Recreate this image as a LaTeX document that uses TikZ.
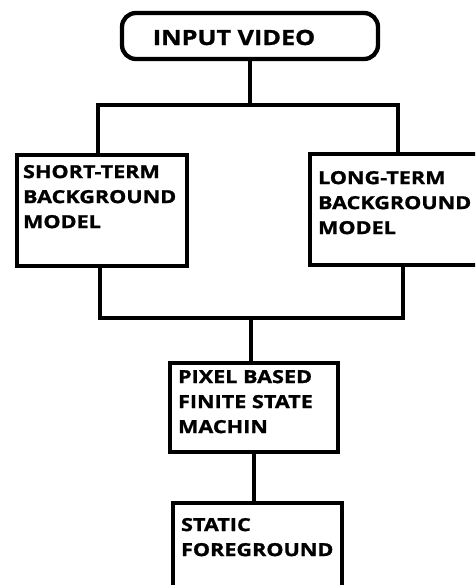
\documentclass[tikz,border=0pt]{standalone}
\usepackage{fontspec}
\newfontfamily\diagfont{Open Sans}[FakeStretch=1.2, FakeBold=1.2]
\usetikzlibrary{calc, positioning}

\begin{document}
\begin{tikzpicture}[
			x=1pt, y=-1pt,
			% Node styles
			stageBox/.style={rectangle, draw=black, line width=4.3pt, fill=white, inner sep=0pt},
			startBox/.style={stageBox, rounded corners=14pt},
			boxText/.style={anchor=north west, inner sep=0pt, align=left, font=\diagfont\bfseries\fontsize{18}{25}\selectfont},
			% Line styles
			link/.style={draw=black, line width=4.3pt}
			]
			
			\useasboundingbox (0,0) rectangle (475,585);
			\clip (0,0) rectangle (475,585);
			
			% =========================================================
			% 1. THE STAGES
			% =========================================================
			
			\node[startBox, minimum width=256pt, minimum height=46pt] (input) at (250,36) {};
			\node[inner sep=0pt, font=\diagfont\bfseries\fontsize{21}{25}\selectfont] (inputText) at (234,37.5) {INPUT VIDEO};
			
			\node[stageBox, minimum width=170pt, minimum height=111pt] (shortBg) at (102,210.5) {};
			\node[boxText] (shortText) at ([shift={(8,12)}]shortBg.north west) {SHORT-TERM\\BACKGROUND\\MODEL};
			
			\node[stageBox, minimum width=170pt, minimum height=111pt] (longBg) at (395,209.5) {};
			\node[boxText] (longText) at ([shift={(10,19)}]longBg.north west) {LONG-TERM\\BACKGROUND\\MODEL};
			
			\node[stageBox, minimum width=168pt, minimum height=89pt] (fsm) at (254,407.5) {};
			\node[boxText] (fsmText) at ([shift={(10,9)}]fsm.north west) {PIXEL BASED\\FINITE STATE\\MACHIN};
			
			\node[stageBox, minimum width=169pt, minimum height=100pt] (staticFg) at (257.5,553) {};
			\node[boxText] (staticText) at ([shift={(10,17)}]staticFg.north west) {STATIC\\FOREGROUND};
			
			% =========================================================
			% 2. THE CONNECTORS
			% =========================================================
			
			\coordinate (splitBar) at (0,105);
			\coordinate (mergeBar) at (0,318);
			
			% Split into the two models
			\draw[link] (input.south) -- (input.south |- splitBar);
			\draw[link] ([xshift=-4pt]shortBg.north) |- ([xshift=3pt]longBg.north |- splitBar) -- ([xshift=3pt]longBg.north);
			
			% Merge into the state machine
			\draw[link] ([xshift=-2pt]shortBg.south) |- ([xshift=8pt]longBg.south |- mergeBar) -- ([xshift=8pt]longBg.south);
			\draw[link] ([xshift=-3pt]fsm.north |- mergeBar) -- ([xshift=-3pt]fsm.north);
			
			% State machine to foreground
			\draw[link] (fsm.south) -- (fsm.south |- staticFg.north);
			
		\end{tikzpicture}
\end{document}
